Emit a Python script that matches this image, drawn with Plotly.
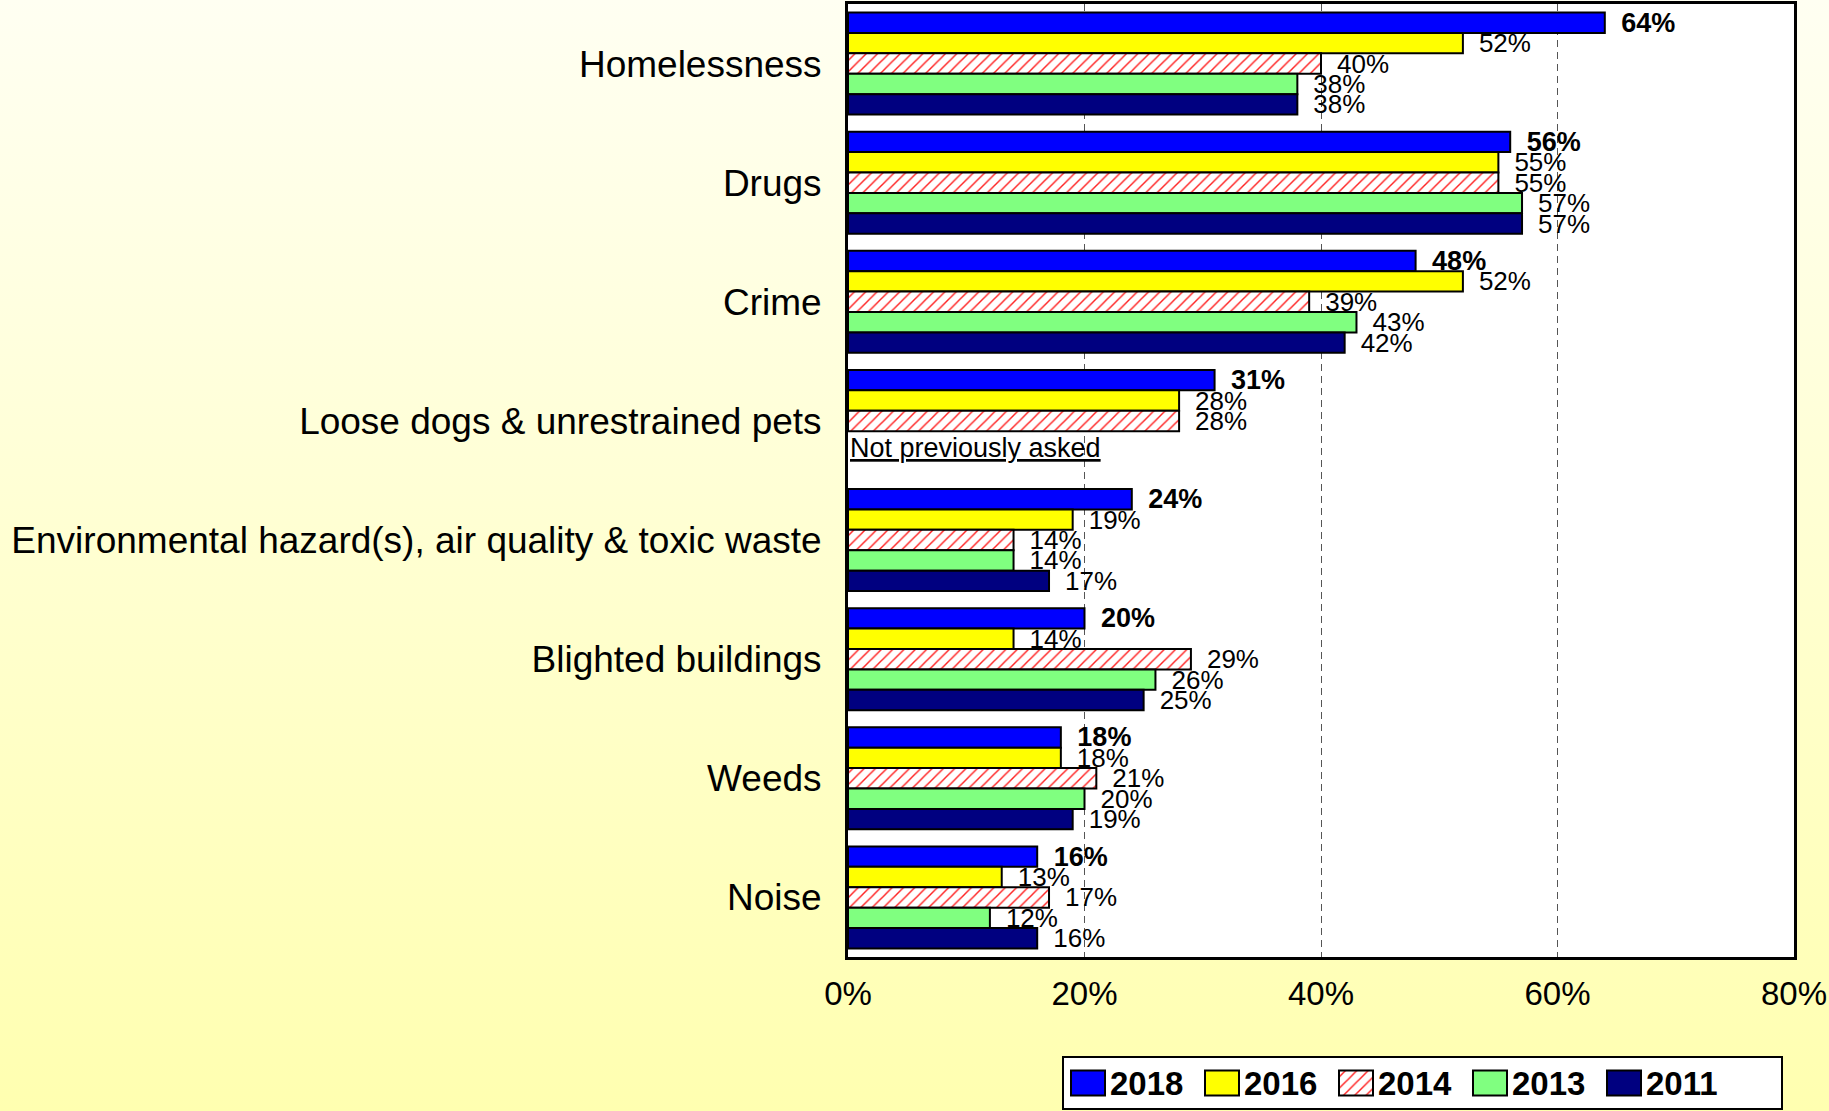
import base64
import plotly.graph_objects as go

# Survey: share of respondents naming each neighbourhood problem, by survey year
categories = [
    "Homelessness",
    "Drugs",
    "Crime",
    "Loose dogs & unrestrained pets",
    "Environmental hazard(s), air quality & toxic waste",
    "Blighted buildings",
    "Weeds",
    "Noise",
]
years = ["2018", "2016", "2014", "2013", "2011"]
pct_2018 = [64, 56, 48, 31, 24, 20, 18, 16]
pct_2016 = [52, 55, 52, 28, 19, 14, 18, 13]
pct_2014 = [40, 55, 39, 28, 14, 29, 21, 17]
pct_2013 = [38, 57, 43, None, 14, 26, 20, 12]
pct_2011 = [38, 57, 42, None, 17, 25, 19, 16]
x_ticks = [0, 20, 40, 60, 80]
x_tick_text = [f"{t}%" for t in x_ticks]
not_asked_note = "Not previously asked"

series = [pct_2018, pct_2016, pct_2014, pct_2013, pct_2011]

# figure geometry in pixels
W, H = 1829, 1111
PLOT_L, PLOT_R, PLOT_T, PLOT_B = 848, 1794, 4, 957
LEG_L, LEG_R, LEG_T, LEG_B = 1064, 1781, 1058, 1108
FONT = "Liberation Sans, Arial, sans-serif"

styles = {
    "2018": dict(color="#0000FF", shape=""),
    "2016": dict(color="#FFFF00", shape=""),
    "2014": dict(color="#FFFFFF", shape="/"),
    "2013": dict(color="#80FF80", shape=""),
    "2011": dict(color="#000080", shape=""),
}


def marker_for(year):
    st = styles[year]
    m = dict(color=st["color"], line=dict(color="black", width=2))
    if st["shape"]:
        m["pattern"] = dict(shape=st["shape"], fgcolor="#FF2020", bgcolor="#FFFFFF",
                            size=8, solidity=0.18, fillmode="replace")
    return m


fig = go.Figure()
for year, vals in zip(years, series):
    if year == "2018":
        labels = [f"\u2002<b>{v}%</b>" if v is not None else "" for v in vals]
        tfont = dict(family=FONT, size=27, color="black")
    else:
        labels = [f"\u2002{v}%" if v is not None else "" for v in vals]
        tfont = dict(family=FONT, size=26, color="black")
    fig.add_trace(go.Bar(
        y=categories,
        x=vals,
        orientation="h",
        name=year,
        marker=marker_for(year),
        text=labels,
        textposition="outside",
        constraintext="none",
        cliponaxis=False,
        textfont=tfont,
        hoverinfo="skip",
        showlegend=False,
        xaxis="x", yaxis="y",
    ))

# note under the one item that earlier surveys did not include
fig.add_annotation(
    x=0, y=categories[3], xref="x", yref="y",
    text=f"<u>{not_asked_note}</u>",
    showarrow=False, xanchor="left", yanchor="middle",
    yshift=-27, xshift=0,
    font=dict(family=FONT, size=27, color="black"),
)

# ---- key: boxed row of large swatches with bold year labels ----
leg_w = LEG_R - LEG_L
leg_h = LEG_B - LEG_T
sw_w, sw_h, sw_first, sw_step = 34, 25, 7, 134
for i, year in enumerate(years):
    start = sw_first + i * sw_step
    fig.add_trace(go.Bar(
        y=[leg_h / 2], x=[sw_w], base=[start], width=[sw_h],
        orientation="h", offsetgroup="key",
        marker=marker_for(year),
        hoverinfo="skip", showlegend=False,
        xaxis="x2", yaxis="y2",
    ))
    fig.add_annotation(
        x=start + sw_w + 3, y=leg_h / 2, xref="x2", yref="y2",
        text=f"<b>{year}</b>", showarrow=False,
        xanchor="left", yanchor="middle",
        font=dict(family=FONT, size=33, color="black"),
    )

# vertical pale-yellow gradient behind the whole figure
svg = (
    '<svg xmlns="http://www.w3.org/2000/svg" width="100" height="100" '
    'viewBox="0 0 100 100" preserveAspectRatio="none">'
    '<defs><linearGradient id="g" x1="0" y1="0" x2="0" y2="1">'
    '<stop offset="0" stop-color="#FFFFF2"/>'
    '<stop offset="1" stop-color="#FFFFB0"/>'
    '</linearGradient></defs>'
    '<rect width="100" height="100" fill="url(#g)"/></svg>'
)
bg_src = "data:image/svg+xml;base64," + base64.b64encode(svg.encode()).decode()
fig.add_layout_image(
    source=bg_src, xref="paper", yref="paper",
    x=0, y=1, sizex=1, sizey=1,
    xanchor="left", yanchor="top", sizing="stretch", layer="below",
)
# white panels for the plotting area and the key
for xr, yr in (("x domain", "y domain"), ("x2 domain", "y2 domain")):
    fig.add_shape(type="rect", xref=xr, yref=yr, x0=0, x1=1, y0=0, y1=1,
                  fillcolor="white", line=dict(width=0), layer="below")

fig.update_layout(
    width=W, height=H,
    margin=dict(l=0, r=0, t=0, b=0, pad=0, autoexpand=False),
    paper_bgcolor="#FFFFD0",
    plot_bgcolor="white",
    barmode="group",
    bargap=0.143,
    bargroupgap=0,
    font=dict(family=FONT, color="black"),
    showlegend=False,
    xaxis=dict(
        domain=[PLOT_L / W, PLOT_R / W],
        anchor="y",
        automargin=False,
        range=[0, 80],
        tickvals=x_ticks,
        ticktext=x_tick_text,
        showgrid=True,
        gridcolor="#555555",
        gridwidth=1.2,
        griddash="7px,5px",
        zeroline=False,
        showline=True, linecolor="black", linewidth=3, mirror=True,
        ticks="outside", ticklen=5, tickcolor="rgba(0,0,0,0)",
        tickfont=dict(family=FONT, size=33, color="black"),
    ),
    yaxis=dict(
        domain=[1 - PLOT_B / H, 1 - PLOT_T / H],
        anchor="x",
        automargin=False,
        autorange="reversed",
        showgrid=False,
        zeroline=False,
        showline=True, linecolor="black", linewidth=3, mirror=True,
        ticks="outside", ticklen=16, tickcolor="rgba(0,0,0,0)",
        tickfont=dict(family=FONT, size=37, color="black"),
    ),
    xaxis2=dict(
        domain=[LEG_L / W, LEG_R / W], anchor="y2", automargin=False,
        range=[0, leg_w], showgrid=False, zeroline=False, showticklabels=False,
        showline=True, linecolor="black", linewidth=2, mirror=True, fixedrange=True,
    ),
    yaxis2=dict(
        domain=[1 - LEG_B / H, 1 - LEG_T / H], anchor="x2", automargin=False,
        range=[0, leg_h], showgrid=False, zeroline=False, showticklabels=False,
        showline=True, linecolor="black", linewidth=2, mirror=True, fixedrange=True,
    ),
)

fig.write_html("out.html")
